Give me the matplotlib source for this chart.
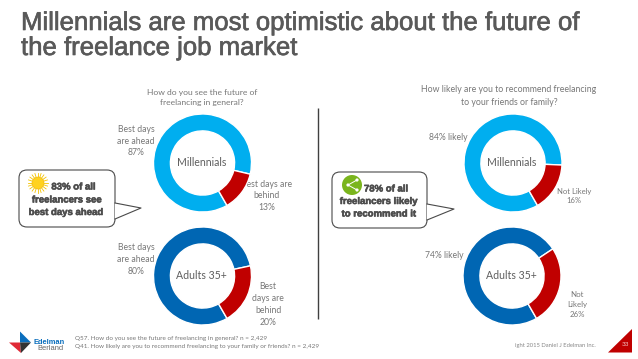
import numpy as np
import matplotlib
matplotlib.use("Agg")
import matplotlib.pyplot as plt
import matplotlib.patheffects as pe
from matplotlib.patches import FancyBboxPatch, Polygon, Circle

W, H = 638, 359

# Data
title_lines = ["Millennials are most optimistic about the future of", "the freelance job market"]
groups = ["Millennials", "Adults 35+"]
future_positive = [87, 80]
future_negative = [13, 20]
recommend_positive = [84, 74]
recommend_negative = [16, 26]

GREY = "#777777"
LIGHT_BLUE = "#00aeef"
DARK_BLUE = "#0066b3"
RED = "#c00000"
BODY = "Lato"

fig = plt.figure(figsize=(W / 100, H / 100), dpi=100, facecolor="white")
bg = fig.add_axes([0, 0, 1, 1], zorder=0)
bg.set_xlim(0, W)
bg.set_ylim(H, 0)
bg.axis("off")


def donut(cx, cy, r, values, color, label):
    ax = fig.add_axes([(cx - r) / W, 1 - (cy + r) / H, 2 * r / W, 2 * r / H], zorder=1)
    ax.patch.set_alpha(0)
    ax.pie(values, colors=[color, RED], startangle=-60, counterclock=False, radius=1,
           wedgeprops=dict(width=0.345, edgecolor="white", linewidth=1.0))
    ax.set_xlim(-1, 1)
    ax.set_ylim(-1, 1)
    ax.set_aspect("equal")
    ax.text(-0.02, 0.02, label, ha="center", va="center", fontsize=7.6, color="#5f5f5f", family=BODY)


R = 49
donut(202.5, 163, R, [future_positive[0], future_negative[0]], LIGHT_BLUE, groups[0])
donut(202.5, 276, R, [future_positive[1], future_negative[1]], DARK_BLUE, groups[1])
donut(513, 163, R, [recommend_positive[0], recommend_negative[0]], LIGHT_BLUE, groups[0])
donut(512, 276, R, [recommend_positive[1], recommend_negative[1]], DARK_BLUE, groups[1])

# Title
stroke = [pe.withStroke(linewidth=0.45, foreground="#595959")]
for baseline, line in zip([30, 55], title_lines):
    bg.text(21, baseline, line, fontsize=18.55, color="#595959", family="Liberation Sans",
            va="baseline", path_effects=stroke)


def body(x, y, s, size=6.2, ha="center", color=GREY, ls=1.4):
    bg.text(x, y, s, fontsize=size, color=color, family=BODY, ha=ha, va="center",
            multialignment="center", linespacing=ls)


body(202, 97.5, "How do you see the future of\nfreelancing in general?", 6.1, ls=1.65)
body(509, 96, "How likely are you to recommend freelancing\nto your friends or family?", 6.3, ls=1.55)
body(136, 141, f"Best days\nare ahead\n{future_positive[0]}%")
body(267, 196, f"Best days are\nbehind\n{future_negative[0]}%")
body(136, 259.5, f"Best days\nare ahead\n{future_positive[1]}%")
body(268, 304.5, f"Best\ndays are\nbehind\n{future_negative[1]}%")
body(448, 137, f"{recommend_positive[0]}% likely")
body(574, 196, f"Not Likely\n{recommend_negative[0]}%", 5.5, ls=1.45)
body(444, 256, f"{recommend_positive[1]}% likely")
body(577, 304.5, f"Not\nLikely\n{recommend_negative[1]}%", 5.7, ls=1.55)

# Divider
bg.plot([317.5, 317.5], [108, 319], color="#404040", lw=1.0, solid_capstyle="butt")


def callout(x0, y0, x1, y1, tail):
    bg.add_patch(FancyBboxPatch((x0 + 7, y0 + 7), x1 - x0 - 14, y1 - y0 - 14,
                                boxstyle="round,pad=7,rounding_size=8",
                                fc="white", ec="#4a4a4a", lw=0.8, zorder=3))
    bg.add_patch(Polygon(tail, closed=True, fc="white", ec="none", zorder=3.1))
    bg.plot([tail[0][0], tail[1][0], tail[2][0]], [tail[0][1], tail[1][1], tail[2][1]],
            color="#4a4a4a", lw=0.8, zorder=3.2)


callout(19, 170, 115, 227, [(115, 203), (141, 208), (115, 219)])
callout(332, 172, 427, 228, [(427, 204), (454, 209), (427, 220)])

callout_stroke = [pe.withStroke(linewidth=0.4, foreground="#4d4d4d")]


def callout_text(x, y, s):
    bg.text(x, y, s, fontsize=6.9, fontweight="bold", color="#4d4d4d", family="Liberation Sans",
            ha="center", va="center", zorder=4, path_effects=callout_stroke)


callout_text(73.5, 186.5, "83% of all")
callout_text(67, 199.5, "freelancers see")
callout_text(66, 212, "best days ahead")
callout_text(386, 188.5, "78% of all")
callout_text(379, 201, "freelancers likely")
callout_text(379, 213.5, "to recommend it")

# Sun icon
for a in np.linspace(0, 2 * np.pi, 20, endpoint=False):
    bg.plot([38 + 6 * np.cos(a), 38 + 10 * np.cos(a)], [183 + 6 * np.sin(a), 183 + 10 * np.sin(a)],
            color="#f5c400", lw=0.6, zorder=4)
bg.add_patch(Circle((38, 183), 6, fc="#ffd21f", ec="#f0b400", lw=0.4, zorder=4.1))

# Share icon
bg.add_patch(Circle((352, 185), 10, fc="#7ab51d", ec="none", zorder=4))
bg.plot([357, 348, 357], [180, 185, 190], color="white", lw=0.7, zorder=4.1)
for px, py in [(357, 180), (348, 185), (357, 190)]:
    bg.add_patch(Circle((px, py), 1.6, fc="white", ec="none", zorder=4.2))

# Logo
bg.add_patch(Polygon([(20, 331.5), (31, 342.5), (20, 342.5)], fc="#0a6ebd", ec="none"))
bg.add_patch(Polygon([(9, 342.5), (20, 342.5), (21, 353)], fc="#e02a36", ec="none"))
bg.add_patch(Polygon([(20, 342.5), (31, 342.5), (21, 353)], fc="#333333", ec="none"))
bg.text(33.5, 342.5, "Edelman", fontsize=5.4, color="#0a6ebd", fontweight="bold",
        family="Liberation Sans", va="center")
bg.text(37, 348.5, "Berland", fontsize=5.4, color="#666666", family="Liberation Sans", va="center")

# Footer
body(75, 338.5, "Q57. How do you see the future of freelancing in general? n = 2,429", 4.55, "left")
body(75, 346.5, "Q41. How likely are you to recommend freelancing to your family or friends? n = 2,429", 4.55, "left")
body(596, 345, "ight 2015 Daniel J Edelman Inc.", 4.2, "right", "#888888")
bg.add_patch(Polygon([(608, 352.5), (632, 329), (632, 352.5)], fc=RED, ec="none"))
bg.text(625, 345, "33", fontsize=4.6, color="#f3c9c9", family=BODY, ha="center", va="center")

fig.savefig("out.png", dpi=100, facecolor="white")
